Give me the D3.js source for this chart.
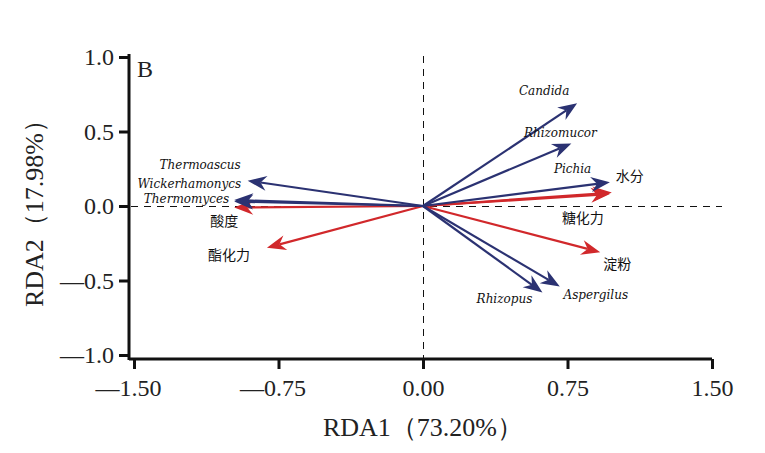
<!DOCTYPE html>
<html>
<head>
<meta charset="utf-8">
<script src="https://cdn.jsdelivr.net/npm/d3@7"></script>
<style>
  body { margin: 0; background: #fff; }
  svg { display: block; }
</style>
</head>
<body>
<div id="chart"></div>
<script>
// ---- data ----
var species = ["Candida", "Rhizomucor", "Pichia", "Aspergilus", "Rhizopus", "Thermoascus", "Wickerhamonycs", "Thermomyces"];
var speciesX = [0.80, 0.77, 0.97, 0.71, 0.62, -0.91, -0.98, -0.98];
var speciesY = [0.69, 0.42, 0.16, -0.54, -0.58, 0.17, 0.04, 0.03];

var factors = ["水分", "糖化力", "淀粉", "酸度", "酯化力"];
var factorX = [0.98, 0.97, 0.92, -0.98, -0.81];
var factorY = [0.09, 0.08, -0.31, -0.01, -0.28];

var xTicks = [-1.5, -0.75, 0, 0.75, 1.5];
var yTicks = [-1.0, -0.5, 0, 0.5, 1.0];

// label placement, in pixels from the arrow tip (layout only)
var labelOffset = {
  "Candida": [-33, -8, "middle"], "Rhizomucor": [-11, -6, "middle"], "Pichia": [-56, -9, "start"],
  "Aspergilus": [36, 13, "middle"], "Rhizopus": [-38, 11, "middle"],
  "Thermoascus": [-7, -12, "end"], "Wickerhamonycs": [7, -12, "end"], "Thermomyces": [-5, 1, "end"],
  "水分": [4, -12, "start"], "糖化力": [-27, 29, "middle"], "淀粉": [3, 17, "start"],
  "酸度": [-24, 19, "start"], "酯化力": [-59, 12, "start"]
};

var W = 765, H = 453;
var blue = "#2b3272", red = "#d1282b";
var serif = "'Liberation Serif', 'Times New Roman', serif";
var italicSerif = "'DejaVu Serif', serif";
var cjk = "'Noto Sans CJK SC', sans-serif";

var svg = d3.select("#chart").append("svg").attr("width", W).attr("height", H);

var x = d3.scaleLinear().domain([-1.5, 1.5]).range([134, 712]);
var y = d3.scaleLinear().domain([-1.0, 1.0]).range([355, 57]);

var fmt = (digits) => (d) => (d < 0 ? "\u2014" : "") + Math.abs(d).toFixed(digits);

// x axis
var xAxis = svg.append("g").attr("transform", "translate(0,359)")
  .call(d3.axisBottom(x).tickValues(xTicks).tickSize(10).tickPadding(10).tickFormat(fmt(2)));
xAxis.select(".domain").attr("d", "M129,0H" + x(1.5));

// y axis
var yAxis = svg.append("g").attr("transform", "translate(129,0)")
  .call(d3.axisLeft(y).tickValues(yTicks).tickSize(10).tickPadding(5).tickFormat(fmt(1)));
yAxis.select(".domain").attr("d", "M0,54V360");

svg.selectAll(".tick line").attr("stroke", "#111").attr("stroke-width", 3);
svg.selectAll(".domain").attr("stroke", "#111").attr("stroke-width", 3);
svg.selectAll(".tick text").attr("fill", "#222").style("font-family", serif).style("font-size", "24px");
xAxis.selectAll(".tick text").attr("dx", function(d) { return d < 0 ? "-6" : "0"; });

// dashed zero lines
var zx = Math.round(x(0)) + 0.5, zy = Math.round(y(0)) + 0.5;
svg.append("line").attr("x1", zx).attr("x2", zx).attr("y1", 56).attr("y2", 358)
  .attr("stroke", "#111").attr("stroke-width", 1).attr("stroke-dasharray", "7,6");
svg.append("line").attr("x1", 131).attr("x2", 722).attr("y1", zy).attr("y2", zy)
  .attr("stroke", "#111").attr("stroke-width", 1).attr("stroke-dasharray", "7,6");

// axis titles
svg.append("text").attr("x", 423).attr("y", 436).attr("text-anchor", "middle")
  .style("font-family", serif).style("font-size", "26px").attr("fill", "#222")
  .text("RDA1（73.20%）");
svg.append("text").attr("transform", "translate(43,207) rotate(-90)").attr("text-anchor", "middle")
  .style("font-family", serif).style("font-size", "26px").attr("fill", "#222")
  .text("RDA2（17.98%）");

svg.append("text").attr("x", 137).attr("y", 77)
  .style("font-family", serif).style("font-size", "24px").attr("fill", "#222").text("B");

// arrows
function arrow(g, vx, vy, color) {
  var x0 = x(0), y0 = y(0), x1 = x(vx), y1 = y(vy);
  var dx = x1 - x0, dy = y1 - y0, len = Math.sqrt(dx * dx + dy * dy);
  var ux = dx / len, uy = dy / len, px = -uy, py = ux;
  var hl = 19, hw = 7.5, notch = 6;
  var bx = x1 - ux * hl, by = y1 - uy * hl;
  var nx = x1 - ux * (hl - notch), ny = y1 - uy * (hl - notch);
  g.append("line").attr("x1", x0).attr("y1", y0).attr("x2", nx).attr("y2", ny)
    .attr("stroke", color).attr("stroke-width", 2.2);
  g.append("path")
    .attr("d", "M" + x1 + "," + y1 + "L" + (bx + px * hw) + "," + (by + py * hw) +
               "L" + nx + "," + ny + "L" + (bx - px * hw) + "," + (by - py * hw) + "Z")
    .attr("fill", color);
}

var arrows = svg.append("g");
factors.forEach(function(f, i) { arrow(arrows, factorX[i], factorY[i], red); });
species.forEach(function(s, i) { arrow(arrows, speciesX[i], speciesY[i], blue); });

// labels
var labels = svg.append("g");
species.forEach(function(s, i) {
  var o = labelOffset[s];
  labels.append("text").attr("x", x(speciesX[i]) + o[0]).attr("y", y(speciesY[i]) + o[1])
    .attr("text-anchor", o[2]).style("font-family", italicSerif).style("font-style", "italic")
    .style("font-size", "12px").attr("fill", "#111").text(s);
});
factors.forEach(function(f, i) {
  var o = labelOffset[f];
  labels.append("text").attr("x", x(factorX[i]) + o[0]).attr("y", y(factorY[i]) + o[1])
    .attr("text-anchor", o[2]).style("font-family", cjk)
    .style("font-size", "14px").attr("fill", "#111").text(f);
});
</script>
</body>
</html>
